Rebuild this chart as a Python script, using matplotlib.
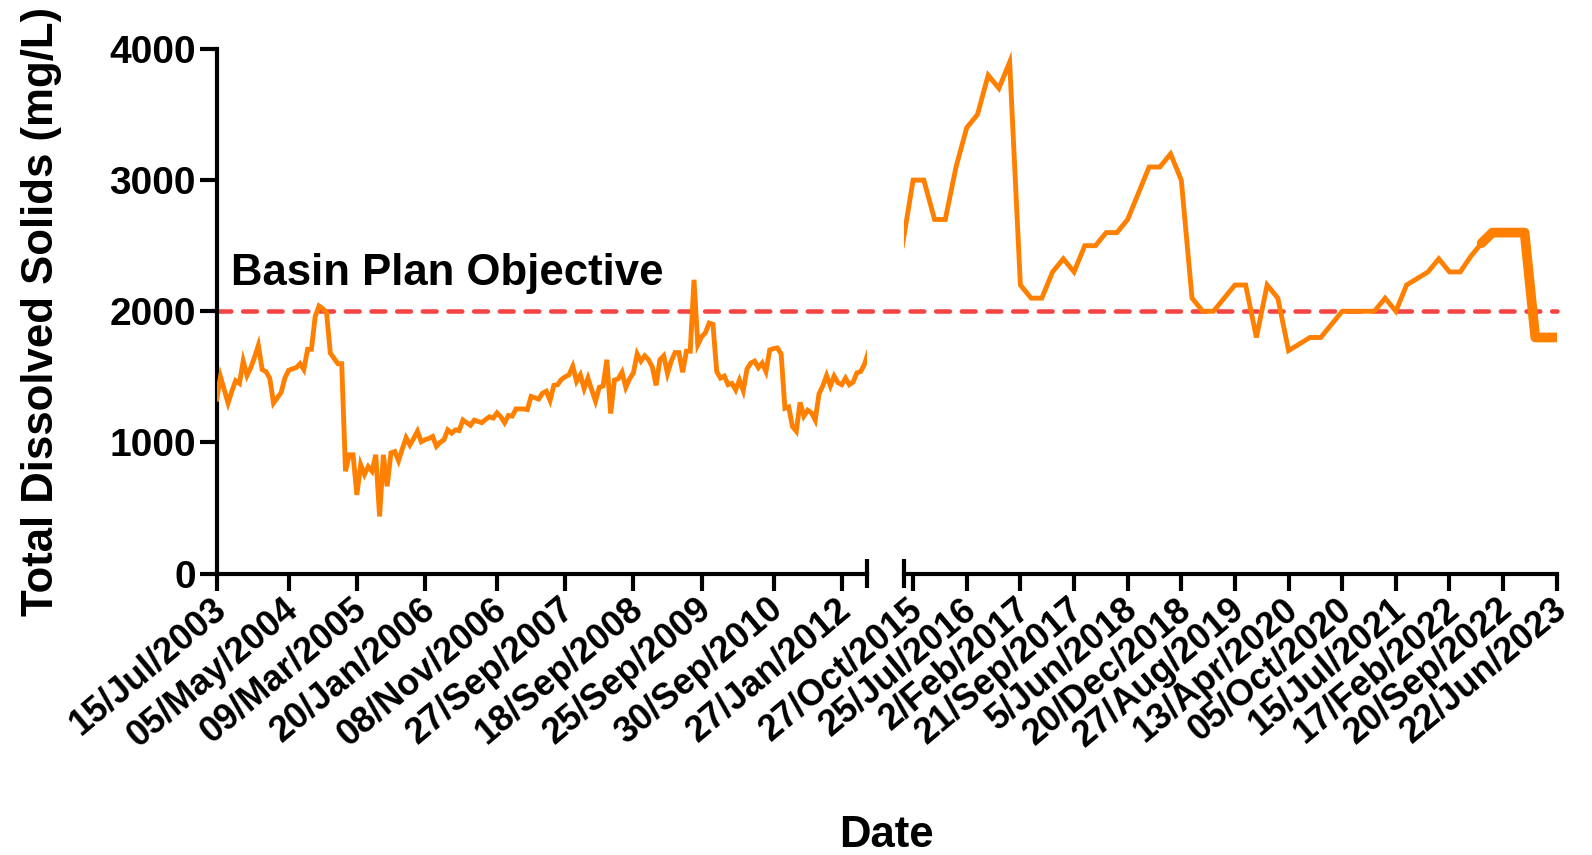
import numpy as np
import matplotlib.pyplot as plt
from matplotlib.transforms import blended_transform_factory, ScaledTranslation

# TDS samples, 2003-2012 record (one value per sample)
early_tds = [
    1330, 1500, 1400, 1300, 1390, 1470, 1450, 1620, 1510, 1570,
    1650, 1740, 1555, 1540, 1490, 1300, 1340, 1380, 1490, 1550,
    1560, 1570, 1600, 1555, 1710, 1710, 1960, 2040, 2020, 1990,
    1680, 1640, 1600, 1600, 780, 905, 905, 600, 830, 755,
    815, 780, 905, 435, 905, 665, 920, 930, 860, 950,
    1035, 980, 1030, 1085, 1005, 1020, 1030, 1045, 970, 1000,
    1020, 1095, 1070, 1095, 1090, 1170, 1150, 1130, 1170, 1160,
    1150, 1175, 1195, 1185, 1225, 1195, 1150, 1205, 1200, 1255,
    1255, 1255, 1250, 1350, 1340, 1330, 1375, 1390, 1320, 1435,
    1440, 1480, 1500, 1515, 1580, 1465, 1515, 1410, 1490, 1400,
    1315, 1420, 1430, 1630, 1220, 1475, 1485, 1535, 1420, 1485,
    1530, 1675, 1620, 1660, 1630, 1575, 1435, 1630, 1660, 1525,
    1620, 1685, 1685, 1535, 1695, 1695, 2240, 1745, 1805, 1835,
    1910, 1900, 1540, 1490, 1505, 1440, 1450, 1400, 1475, 1395,
    1560, 1605, 1620, 1570, 1605, 1540, 1705, 1715, 1720, 1675,
    1260, 1270, 1120, 1085, 1305, 1200, 1245, 1225, 1170, 1370,
    1430, 1510, 1430, 1505, 1455, 1440, 1490, 1440, 1460, 1530,
    1540, 1595, 1685,
]
early_tick_idx = [0, 19, 37, 55, 74, 92, 110, 128, 147, 165]
early_tick_labels = ['15/Jul/2003', '05/May/2004', '09/Mar/2005', '20/Jan/2006',
                     '08/Nov/2006', '27/Sep/2007', '18/Sep/2008', '25/Sep/2009',
                     '30/Sep/2010', '27/Jan/2012']

# TDS samples, 2015-2023 record
late_tds = [
    2500, 3000, 3000, 2700, 2700, 3100, 3400, 3500, 3800, 3700,
    3900, 2200, 2100, 2100, 2300, 2400, 2300, 2500, 2500, 2600,
    2600, 2700, 2900, 3100, 3100, 3200, 3000, 2100, 2000, 2000,
    2100, 2200, 2200, 1800, 2200, 2100, 1700, 1750, 1800, 1800,
    1900, 2000, 2000, 2000, 2000, 2100, 2000, 2200, 2250, 2300,
    2400, 2300, 2300, 2420, 2520, 2600, 2600, 2600, 2600, 1800,
    1800, 1800,
]
late_tick_idx = [1, 6, 11, 16, 21, 26, 31, 36, 41, 46, 51, 56, 61]
late_tick_labels = ['27/Oct/2015', '25/Jul/2016', '2/Feb/2017', '21/Sep/2017',
                    '5/Jun/2018', '20/Dec/2018', '27/Aug/2019', '13/Apr/2020',
                    '05/Oct/2020', '15/Jul/2021', '17/Feb/2022', '20/Sep/2022',
                    '22/Jun/2023']
overlap_start = 54  # duplicated readings at the end of the record

objective = 2000

orange = '#FF8000'
red = '#F44545'
lw_axis = 3.0
lw_data = 3.5

plt.rcParams['font.family'] = ['Liberation Sans', 'DejaVu Sans']
plt.rcParams['font.weight'] = 'bold'

W, H = 1592, 855
fig = plt.figure(figsize=(W / 100, H / 100), dpi=100)
ax_l = fig.add_axes([216.7 / W, 1 - 573.5 / H, 650.6 / W, 524.5 / H])
ax_r = fig.add_axes([903.7 / W, 1 - 573.5 / H, 653.6 / W, 524.5 / H])

x_early = np.arange(len(early_tds))
x_late = np.arange(len(late_tds))

ax_l.plot(x_early, early_tds, color=orange, lw=lw_data, solid_joinstyle='miter', zorder=3)
ax_r.plot(x_late, late_tds, color=orange, lw=lw_data, solid_joinstyle='miter', zorder=3)
ax_r.plot(x_late[overlap_start:], late_tds[overlap_start:], color=orange, lw=2 * lw_data,
          solid_capstyle='round', zorder=3)

ax_l.set_xlim(0, 171.75)
ax_r.set_xlim(0.123, 61.05)

for ax in (ax_l, ax_r):
    ax.set_ylim(0, 4000)
    ax.set_facecolor('none')
    ax.spines['top'].set_visible(False)
    ax.spines['right'].set_visible(False)
    ax.spines['bottom'].set_linewidth(lw_axis)
    ax.spines['left'].set_linewidth(lw_axis)
    ax.tick_params(axis='both', direction='out', length=12, width=lw_axis,
                   labelsize=28, color='black')
    ax.tick_params(axis='x', pad=1, labelsize=26)
    ax.tick_params(axis='y', pad=3)
    # break marks at the cut ends of the x axis
    edge = 1 if ax is ax_l else 0
    ax.plot([edge, edge], [-0.027, 0.027], transform=ax.transAxes, color='black',
            lw=lw_axis, clip_on=False, solid_capstyle='butt')

ax_l.set_yticks([0, 1000, 2000, 3000, 4000])
ax_l.set_xticks(early_tick_idx)
ax_l.set_xticklabels(early_tick_labels)

ax_r.spines['left'].set_visible(False)
ax_r.set_yticks([])
ax_r.set_xticks(late_tick_idx)
ax_r.set_xticklabels(late_tick_labels)

# slanted date labels, ending just left of their tick
shift = ScaledTranslation(-6 / 100, 0, fig.dpi_scale_trans)
for ax in (ax_l, ax_r):
    for lab in ax.get_xticklabels():
        lab.set_rotation(40)
        lab.set_ha('right')
        lab.set_va('top')
        lab.set_rotation_mode('anchor')
        lab.set_transform(lab.get_transform() + shift)

# objective line runs across both panels and the gap between them
x0 = ax_l.get_position().x0
x1 = ax_r.get_position().x1
trans = blended_transform_factory(fig.transFigure, ax_l.transData)
ax_l.plot([x0, x1], [objective, objective], transform=trans, color=red, lw=3.3,
          linestyle=(0, (3.0, 2.6)), dash_capstyle='round', clip_on=False, zorder=1)

fig.text(231 / W, 1 - 285 / H, 'Basin Plan Objective', fontsize=31.5,
         fontweight='bold', ha='left', va='baseline')
fig.text(42 / W, 1 - 311 / H, 'Total Dissolved Solids (mg/L)', fontsize=31.5,
         fontweight='bold', rotation=90, ha='center', va='center')
fig.text(886 / W, 1 - 835 / H, 'Date', fontsize=31.5, fontweight='bold',
         ha='center', va='center')

fig.savefig('out.png', dpi=100)
